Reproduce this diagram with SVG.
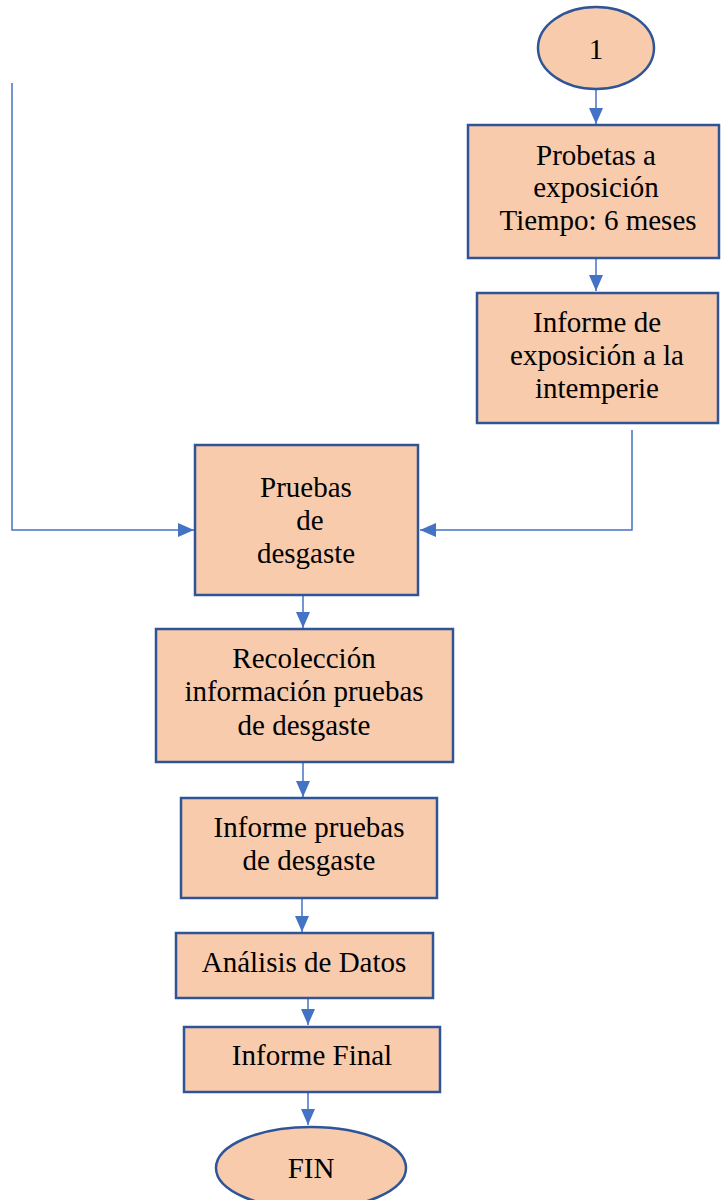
<svg xmlns="http://www.w3.org/2000/svg" width="721" height="1200" viewBox="0 0 721 1200">
<defs>
<style>
.n{fill:#F8CBAD;stroke:#2F5597;stroke-width:2.5}
.t{font-family:"Liberation Serif","Times New Roman",serif;font-size:29px;fill:#000;text-anchor:middle}
.c{fill:none;stroke:#4472C4;stroke-width:1.5}
</style>
<marker id="a" markerUnits="userSpaceOnUse" markerWidth="16" markerHeight="16" viewBox="0 0 16 16" refX="16" refY="8" orient="auto">
<path d="M0,1 L16,8 L0,15 Z" fill="#4472C4"/>
</marker>
</defs>
<g id="connectors">
<path class="c" d="M596,89 V124" marker-end="url(#a)"/>
<path class="c" d="M596,258 V291" marker-end="url(#a)"/>
<path class="c" d="M632,430 V530 H420" marker-end="url(#a)"/>
<path class="c" d="M12,83 V530 H194" marker-end="url(#a)"/>
<path class="c" d="M303,595 V628" marker-end="url(#a)"/>
<path class="c" d="M303,762 V797" marker-end="url(#a)"/>
<path class="c" d="M302,890 V932" marker-end="url(#a)"/>
<path class="c" d="M308,985 V1025" marker-end="url(#a)"/>
<path class="c" d="M308,1085 V1125" marker-end="url(#a)"/>
</g>
<g id="n1">
<ellipse class="n" cx="596" cy="48" rx="58" ry="41"/>
<text class="t" x="596" y="59">1</text>
</g>
<g id="probetas">
<rect class="n" x="468" y="125" width="251" height="133"/>
<text class="t" x="596" y="165">Probetas a</text>
<text class="t" x="596" y="197">exposición</text>
<text class="t" x="598" y="230">Tiempo: 6 meses</text>
</g>
<g id="informe-exposicion">
<rect class="n" x="477" y="293" width="241" height="130"/>
<text class="t" x="597" y="332">Informe de</text>
<text class="t" x="597" y="365">exposición a la</text>
<text class="t" x="597" y="398">intemperie</text>
</g>
<g id="pruebas">
<rect class="n" x="195" y="445" width="223" height="150"/>
<text class="t" x="306" y="497">Pruebas</text>
<text class="t" x="310" y="530">de</text>
<text class="t" x="306" y="563">desgaste</text>
</g>
<g id="recoleccion">
<rect class="n" x="156" y="629" width="297" height="133"/>
<text class="t" x="304" y="668">Recolección</text>
<text class="t" x="304" y="701">información pruebas</text>
<text class="t" x="304" y="735">de desgaste</text>
</g>
<g id="informe-pruebas">
<rect class="n" x="181" y="798" width="256" height="100"/>
<text class="t" x="309" y="837">Informe pruebas</text>
<text class="t" x="309" y="870">de desgaste</text>
</g>
<g id="analisis">
<rect class="n" x="176" y="933" width="257" height="65"/>
<text class="t" x="304" y="972">Análisis de Datos</text>
</g>
<g id="informe-final">
<rect class="n" x="184" y="1027" width="256" height="65"/>
<text class="t" x="312" y="1065">Informe Final</text>
</g>
<g id="fin">
<ellipse class="n" cx="311" cy="1168" rx="95" ry="41"/>
<text class="t" x="311" y="1178">FIN</text>
</g>
</svg>
